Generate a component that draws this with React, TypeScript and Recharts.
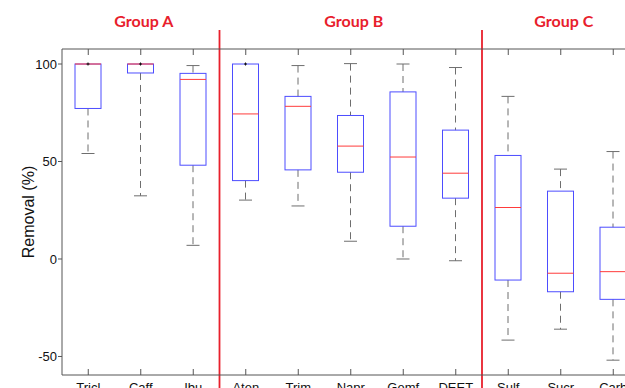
import { Bar, ComposedChart, Label, ReferenceLine, XAxis, YAxis } from "recharts";

const CATEGORIES = ["Tricl", "Caff", "Ibu", "Aten", "Trim", "Napr", "Gemf", "DEET", "Sulf", "Sucr", "Carb"];
const WHISKER_LOW = [54.1, 32.4, 7.0, 30.2, 27.2, 9.1, 0, -0.9, -41.6, -36, -51.9];
const Q1 = [77.2, 95.4, 48.1, 40.2, 45.7, 44.5, 16.8, 31.2, -10.8, -16.8, -20.7];
const MEDIAN = [100, 100, 92.1, 74.4, 78.3, 57.9, 52.3, 44.0, 26.4, -7.3, -6.5];
const Q3 = [100, 100, 95.2, 100, 83.4, 73.6, 85.7, 66.1, 53.1, 34.8, 16.3];
const WHISKER_HIGH = [100, 100, 99.2, 100, 99.2, 100.2, 100, 98.2, 83.4, 46.1, 55.1];
const MARKERS = [100, 100, null, 100, null, null, null, null, null, null, null];
const Y_TICKS = [-50, 0, 50, 100];

// group label sits over its centre category; divider after last category of the group
const GROUP_LABELS: Record<string, string> = { Caff: "Group A", Napr: "Group B", Sucr: "Group C" };
const GROUP_ENDS = ["Ibu", "DEET"];

const BOX = "#4d4dff";
const MEDIAN_RED = "#ff3b3b";
const WHISKER = "#6e6e6e";
const AXIS = "#555555";
const DIVIDER = "#e8202c";

const data = CATEGORIES.map((name, i) => ({
  name,
  lo: WHISKER_LOW[i],
  q1: Q1[i],
  med: MEDIAN[i],
  q3: Q3[i],
  hi: WHISKER_HIGH[i],
  mark: MARKERS[i],
  range: [WHISKER_LOW[i], WHISKER_HIGH[i]],
}));

function BoxShape(props: any) {
  const { x, y, width, height, payload } = props;
  const { lo, q1, med, q3, hi, mark } = payload;
  // bar spans lo..hi on the y scale; place the rest along that span
  const py = (v: number) => y + ((hi - v) / (hi - lo)) * height;
  const cx = x + width / 2;
  const cap = width / 4;
  return (
    <g>
      {hi > q3 && (
        <>
          <line x1={cx} x2={cx} y1={py(hi)} y2={py(q3)} stroke={WHISKER} strokeDasharray="7 5" />
          <line x1={cx - cap} x2={cx + cap} y1={py(hi)} y2={py(hi)} stroke={WHISKER} />
        </>
      )}
      <line x1={cx} x2={cx} y1={py(q1)} y2={py(lo)} stroke={WHISKER} strokeDasharray="7 5" />
      <line x1={cx - cap} x2={cx + cap} y1={py(lo)} y2={py(lo)} stroke={WHISKER} />
      <rect x={x} y={py(q3)} width={width} height={py(q1) - py(q3)} fill="none" stroke={BOX} />
      <line x1={x} x2={x + width} y1={py(med)} y2={py(med)} stroke={MEDIAN_RED} />
      {mark != null && (
        <g stroke="#111" strokeWidth={1}>
          <line x1={cx - 1.5} x2={cx + 1.5} y1={py(mark)} y2={py(mark)} />
          <line x1={cx} x2={cx} y1={py(mark) - 1.5} y2={py(mark) + 1.5} />
        </g>
      )}
    </g>
  );
}

function GroupTick({ x, y, payload }: any) {
  const label = GROUP_LABELS[payload.value];
  if (!label) return <g />;
  return (
    <text x={x + 3} y={y} textAnchor="middle" fill={DIVIDER} fontFamily="Lato" fontWeight={700} fontSize={16}>
      {label}
    </text>
  );
}

function Divider(props: any) {
  const top = Math.min(props.y1, props.y2);
  const bottom = Math.max(props.y1, props.y2);
  return <line x1={props.x1} x2={props.x2} y1={top - 19} y2={bottom + 40} stroke={DIVIDER} strokeWidth={1.8} />;
}

export default function App() {
  return (
    <div
      style={{
        position: "absolute",
        left: 0,
        top: 0,
        width: 625,
        height: 388,
        overflow: "hidden",
        background: "#fff",
        fontFamily: "'Liberation Sans', Arial, sans-serif",
      }}
    >
      <ComposedChart width={660} height={410} data={data} margin={{ top: 29, right: 20.5, bottom: 5, left: 0 }}>
        <XAxis
          dataKey="name"
          height={30}
          stroke={AXIS}
          tickSize={-6}
          tickMargin={14}
          tick={{ fontSize: 13, fill: "#111" }}
        />
        <XAxis
          xAxisId="top"
          dataKey="name"
          orientation="top"
          height={20}
          stroke={AXIS}
          tickSize={-6}
          tickMargin={28}
          tick={<GroupTick />}
          interval={0}
        />
        <YAxis
          type="number"
          domain={[-59.5, 107.7]}
          allowDataOverflow
          ticks={Y_TICKS}
          width={62}
          stroke={AXIS}
          tickSize={4}
          tickMargin={1}
          tick={{ fontSize: 13, fill: "#111" }}
        >
          <Label value="Removal (%)" angle={-90} position="center" dx={-3} style={{ fontSize: 16, fill: "#111" }} />
        </YAxis>
        <Bar dataKey="range" barSize={26} shape={<BoxShape />} isAnimationActive={false} />
        {GROUP_ENDS.map((c) => (
          <ReferenceLine key={c} x={c} position="end" shape={(p: any) => <Divider {...p} />} />
        ))}
      </ComposedChart>
    </div>
  );
}
